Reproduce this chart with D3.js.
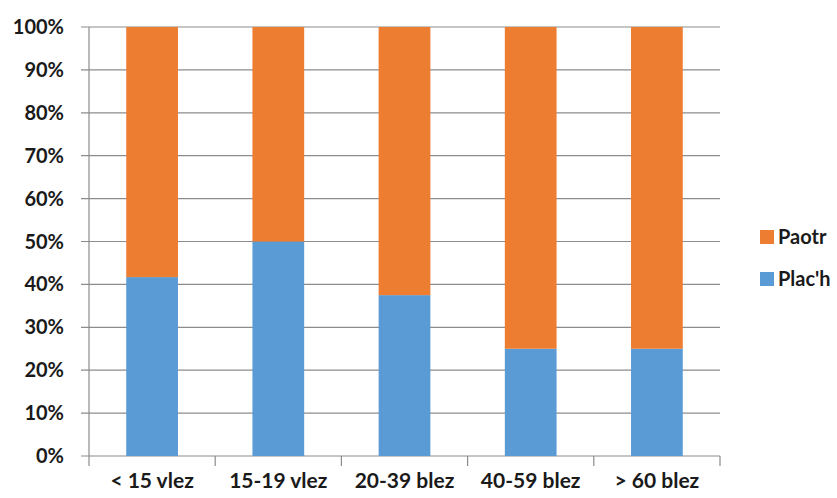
<!DOCTYPE html>
<html><head><meta charset="utf-8">
<script src="https://cdn.jsdelivr.net/npm/d3@7"></script>
<style>body{margin:0;background:#fff}svg text{font-family:Lato,"Open Sans",sans-serif;fill:#1a1a1a}</style>
</head><body><svg id="c" width="837" height="498"></svg>
<script>
const categories = ["< 15 vlez","15-19 vlez","20-39 blez","40-59 blez","> 60 blez"];
const plach = [41.7, 50, 37.5, 25, 25];
const paotr = [58.3, 50, 62.5, 75, 75];
const yTicks = [0,10,20,30,40,50,60,70,80,90,100];
const seriesNames = ["Plac'h","Paotr"];
const colors = {"Plac'h":"#5b9bd5","Paotr":"#ed7d31"};

const svg = d3.select("#c");
const L=89,R=720,T=27,B=456;
const x = d3.scaleBand().domain(categories).range([L,R]).paddingInner(0.59).paddingOuter(0.295);
const y = d3.scaleLinear().domain([0,100]).range([B,T]);

svg.append("g").selectAll("line").data(yTicks).join("line")
 .attr("x1",L-8).attr("x2",R).attr("y1",d=>y(d)).attr("y2",d=>y(d))
 .attr("stroke","#8c8c8c").attr("stroke-width",1.2);
svg.append("line").attr("x1",L).attr("x2",L).attr("y1",T).attr("y2",B).attr("stroke","#8c8c8c").attr("stroke-width",1.2);
const xt = d3.range(categories.length+1).map(i=>L+i*(R-L)/categories.length);
svg.append("g").selectAll("line").data(xt).join("line")
 .attr("x1",d=>d).attr("x2",d=>d).attr("y1",B).attr("y2",B+10).attr("stroke","#8c8c8c").attr("stroke-width",1.2);

const data = categories.map((c,i)=>({cat:c,"Plac'h":plach[i],"Paotr":paotr[i]}));
const stack = d3.stack().keys(seriesNames)(data);
svg.append("g").selectAll("g").data(stack).join("g").attr("fill",d=>colors[d.key])
 .selectAll("rect").data(d=>d).join("rect")
 .attr("x",d=>x(d.data.cat)).attr("width",x.bandwidth())
 .attr("y",d=>y(d[1])).attr("height",d=>y(d[0])-y(d[1]));

svg.append("g").selectAll("text").data(yTicks).join("text")
 .attr("x",64).attr("y",d=>y(d)).attr("dy","0.35em").attr("text-anchor","end")
 .attr("font-size",20).attr("font-weight","bold").text(d=>d+"%");
svg.append("g").selectAll("text").data(categories).join("text")
 .attr("x",d=>x(d)+x.bandwidth()/2).attr("y",488).attr("text-anchor","middle")
 .attr("font-size",21).attr("font-weight","bold").text(d=>d);
const leg = [{k:"Paotr",y:237},{k:"Plac'h",y:279}];
const lg = svg.append("g").selectAll("g").data(leg).join("g");
lg.append("rect").attr("x",760).attr("y",d=>d.y-7).attr("width",14).attr("height",14).attr("fill",d=>colors[d.k]);
lg.append("text").attr("x",778).attr("y",d=>d.y).attr("dy","0.35em").attr("font-size",20).attr("font-weight","bold").text(d=>d.k);
</script></body></html>
